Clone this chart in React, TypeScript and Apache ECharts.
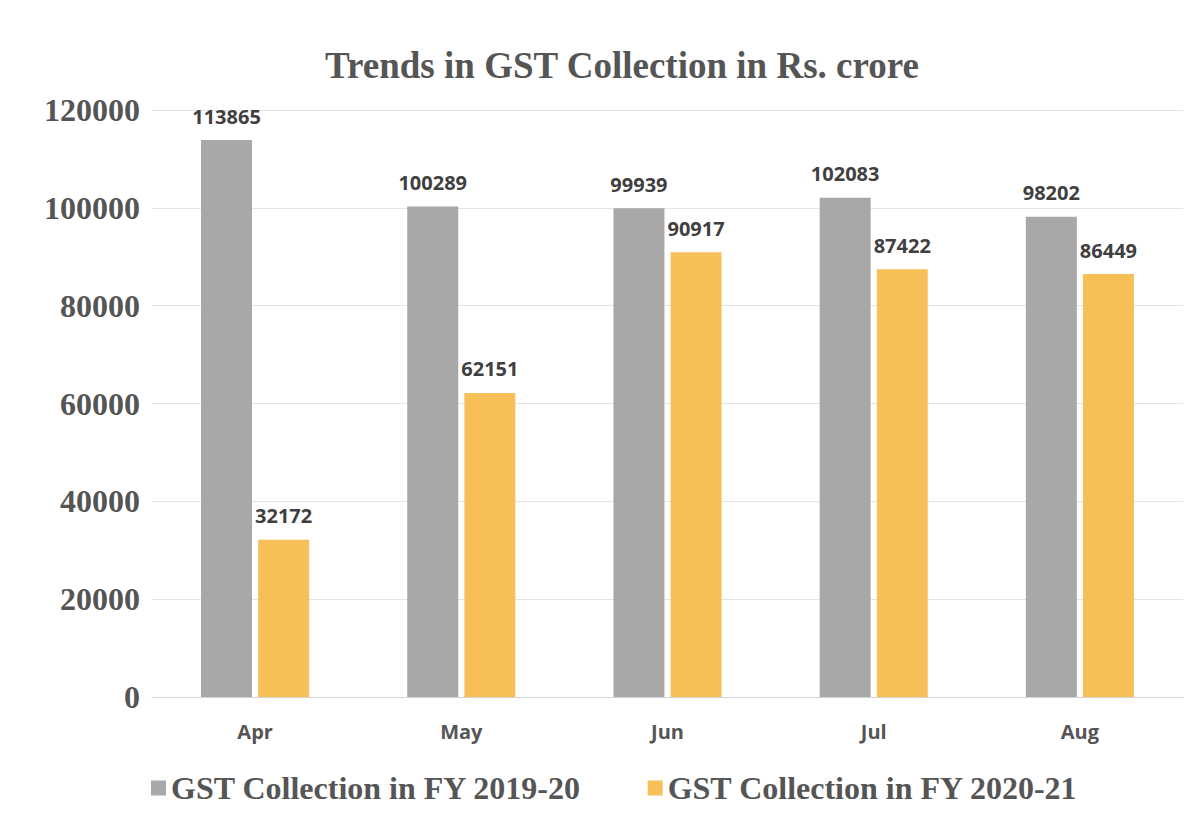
import React, { useEffect, useRef } from "react";
import * as echarts from "echarts";

const months = ["Apr", "May", "Jun", "Jul", "Aug"];
const fy2019 = [113865, 100289, 99939, 102083, 98202];
const fy2020 = [32172, 62151, 90917, 87422, 86449];
const seriesNames = ["GST Collection in FY 2019-20", "GST Collection in FY 2020-21"];
const yTicks = { min: 0, max: 120000, interval: 20000 };

export default function App() {
  const ref = useRef<HTMLDivElement>(null);
  useEffect(() => {
    if (!ref.current) return;
    const chart = echarts.init(ref.current, null, { renderer: "svg" });
    const labelStyle = {
      show: true,
      position: "top",
      distance: 14,
      fontFamily: "Open Sans",
      fontWeight: "bold",
      fontSize: 20,
      color: "#3f3f3f",
    };
    chart.setOption({
      animation: false,
      backgroundColor: "#ffffff",
      title: {
        text: "Trends in GST Collection in Rs. crore",
        left: 609,
        textAlign: "center",
        top: 34,
        textStyle: {
          fontFamily: "Liberation Serif",
          fontWeight: "bold",
          fontSize: 37,
          color: "#555555",
        },
      },
      legend: {
        left: 138,
        top: 759,
        itemWidth: 15,
        itemHeight: 15,
        itemGap: 66,
        icon: "rect",
        textStyle: {
          fontFamily: "Liberation Serif",
          fontWeight: "bold",
          fontSize: 32,
          color: "#555555",
        },
        data: seriesNames,
      },
      grid: { left: 144, right: 13, top: 102, bottom: 125 },
      xAxis: {
        type: "category",
        data: months,
        axisLine: { lineStyle: { color: "#d4d4d4", width: 1 } },
        axisTick: { show: false },
        axisLabel: {
          margin: 24,
          fontFamily: "Open Sans",
          fontWeight: "bold",
          fontSize: 20,
          color: "#555555",
        },
      },
      yAxis: {
        type: "value",
        min: yTicks.min,
        max: yTicks.max,
        interval: yTicks.interval,
        axisLine: { show: false },
        axisTick: { show: false },
        splitLine: { lineStyle: { color: "#e4e4e4", width: 1 } },
        axisLabel: {
          margin: 12,
          formatter: (v: number) => String(v),
          fontFamily: "Liberation Serif",
          fontWeight: "bold",
          fontSize: 32,
          color: "#555555",
        },
      },
      series: [
        {
          name: seriesNames[0],
          type: "bar",
          data: fy2019,
          barWidth: 51,
          barGap: "12%",
          itemStyle: { color: "#a8a8a8" },
          label: labelStyle,
        },
        {
          name: seriesNames[1],
          type: "bar",
          data: fy2020,
          barWidth: 51,
          itemStyle: { color: "#f7bf58" },
          label: labelStyle,
        },
      ],
    });
    return () => chart.dispose();
  }, []);
  return <div ref={ref} style={{ width: 1188, height: 814 }} />;
}
